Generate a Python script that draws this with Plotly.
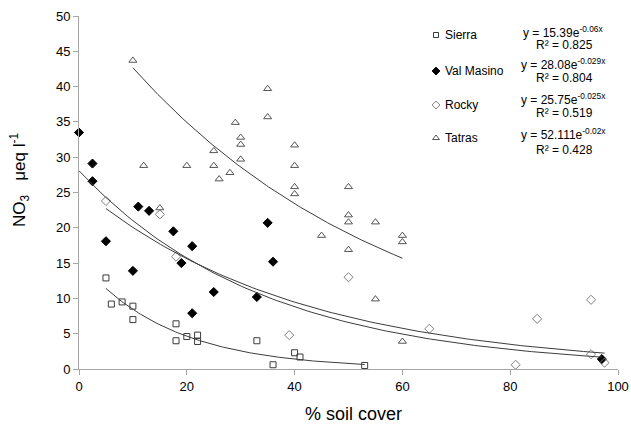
import numpy as np
import plotly.graph_objects as go

# ---- data ----
sierra_x = [5, 6, 8, 10, 10, 18, 18, 20, 22, 22, 33, 36, 40, 41, 53]
sierra_y = [12.9, 9.2, 9.5, 8.9, 7.0, 6.4, 4.0, 4.6, 4.8, 3.9, 4.0, 0.6, 2.3, 1.7, 0.5]

valmasino_x = [0, 2.5, 2.5, 5, 10, 11, 13, 17.5, 19, 21, 21, 25, 33, 35, 36, 97]
valmasino_y = [33.5, 29.1, 26.6, 18.1, 13.9, 23.0, 22.4, 19.5, 15.0, 17.4, 7.9, 10.9, 10.2, 20.7, 15.2, 1.4]

rocky_x = [5, 15, 18, 39, 50, 65, 85, 95, 81, 95, 97.5]
rocky_y = [23.8, 21.9, 15.9, 4.8, 13.0, 5.7, 7.1, 9.8, 0.6, 2.1, 0.9]

tatras_x = [10, 12, 15, 20, 25, 25, 26, 28, 29, 30, 30, 30, 35, 35, 40, 40, 40, 40,
            45, 50, 50, 50, 50, 55, 55, 60, 60, 60]
tatras_y = [43.7, 28.8, 22.8, 28.8, 30.9, 28.8, 26.9, 27.8, 34.9, 32.8, 31.8, 29.7, 39.7, 35.7,
            31.7, 28.8, 25.8, 24.8, 18.9, 25.8, 21.8, 20.8, 16.9, 20.8, 9.9, 18.9, 18.0, 3.9]

series_names = ["Sierra", "Val Masino", "Rocky", "Tatras"]
fit_a = [15.39, 28.08, 25.75, 52.111]
fit_b = [-0.06, -0.029, -0.025, -0.02]
fit_a_txt = ["15.39", "28.08", "25.75", "52.111"]
fit_b_txt = ["-0.06", "-0.029", "-0.025", "-0.02"]
fit_r2 = ["0.825", "0.804", "0.519", "0.428"]

x_ticks = [0, 20, 40, 60, 80, 100]
y_ticks = [0, 5, 10, 15, 20, 25, 30, 35, 40, 45, 50]

# ---- layout geometry (page pixels; body margin removed in the page) ----
W, H = 631, 427
PL, PR, PT, PB = 79, 618, 16, 369   # plot area on the page
ML, MT = PL, PT
MR = W - PR
MB = H - PB
PW = PR - PL
PH = PB - PT


def px(xp):
    return (xp - PL) / PW


def py(yp):
    return (PB - yp) / PH


FONT = "Liberation Sans, Arial, sans-serif"
xs_all = [sierra_x, valmasino_x, rocky_x, tatras_x]
ys_all = [sierra_y, valmasino_y, rocky_y, tatras_y]
symbols = ["square-open", "diamond", "diamond-open", "triangle-up-open"]
mcolors = ["#3a3a3a", "#000000", "#7f7f7f", "#555555"]
msizes = [6, 7, 7, 7]

fig = go.Figure()

for i in range(4):
    fig.add_trace(go.Scatter(
        x=xs_all[i], y=ys_all[i], mode="markers", name=series_names[i],
        marker=dict(symbol=symbols[i], size=msizes[i], color=mcolors[i],
                    line=dict(width=1, color=mcolors[i])),
        showlegend=False, cliponaxis=False))

# exponential trendlines from the stated equations, over each series' x range
for i in range(4):
    xx = np.linspace(min(xs_all[i]), max(xs_all[i]), 120)
    yy = fit_a[i] * np.exp(fit_b[i] * xx)
    fig.add_trace(go.Scatter(x=xx, y=yy, mode="lines", showlegend=False,
                             line=dict(color="#3c3c3c", width=1), hoverinfo="skip"))

# custom legend markers (paper space)
leg_y = [35, 71, 105, 138]
for i in range(4):
    fig.add_trace(go.Scatter(
        x=[px(436)], y=[py(leg_y[i])], xaxis="x2", yaxis="y2", mode="markers", showlegend=False,
        marker=dict(symbol=symbols[i], size=msizes[i] - 1, color=mcolors[i],
                    line=dict(width=1, color=mcolors[i])), hoverinfo="skip"))

annotations = []
for i in range(4):
    annotations.append(dict(x=px(443), y=py(leg_y[i]), xref="paper", yref="paper",
                            text=series_names[i],
                            showarrow=False, xanchor="left", yanchor="middle",
                            font=dict(family=FONT, size=12, color="#000")))
eq_y = [32, 64, 99, 134]
r2_y = [45, 78, 113, 150]
for i in range(4):
    annotations.append(dict(x=px(563), y=py(eq_y[i]), xref="paper", yref="paper",
                            text=f"y = {fit_a_txt[i]}e<sup>{fit_b_txt[i]}x</sup>",
                            showarrow=False, xanchor="center", yanchor="middle",
                            font=dict(family=FONT, size=12, color="#000")))
    annotations.append(dict(x=px(564), y=py(r2_y[i]), xref="paper", yref="paper",
                            text=f"R² = {fit_r2[i]}",
                            showarrow=False, xanchor="center", yanchor="middle",
                            font=dict(family=FONT, size=12, color="#000")))

# axis titles
annotations.append(dict(x=px(19), y=py(180), xref="paper", yref="paper",
                        text="NO<sub>3</sub>   μeq l<sup>-1</sup>", textangle=-90,
                        showarrow=False, xanchor="center", yanchor="middle",
                        font=dict(family=FONT, size=17, color="#000")))
annotations.append(dict(x=px(353), y=py(414), xref="paper", yref="paper",
                        text="% soil cover",
                        showarrow=False, xanchor="center", yanchor="middle",
                        font=dict(family=FONT, size=18, color="#000")))

fig.update_layout(
    width=W, height=H,
    margin=dict(l=ML, r=MR, t=MT, b=MB, autoexpand=False),
    paper_bgcolor="white", plot_bgcolor="white",
    font=dict(family=FONT, size=13, color="#000"),
    xaxis=dict(range=[0, 100], tickvals=x_ticks, showgrid=False, zeroline=False,
               showline=True, linecolor="#a6a6a6", linewidth=1,
               ticks="outside", ticklen=5, tickcolor="#a6a6a6",
               tickfont=dict(size=13, family=FONT)),
    yaxis=dict(range=[0, 50], tickvals=y_ticks, showgrid=False, zeroline=False,
               showline=True, linecolor="#a6a6a6", linewidth=1,
               ticks="outside", ticklen=5, tickcolor="#a6a6a6",
               tickfont=dict(size=13, family=FONT)),
    xaxis2=dict(range=[0, 1], overlaying="x", visible=False),
    yaxis2=dict(range=[0, 1], overlaying="y", visible=False),
    annotations=annotations,
)

fig.write_html("out.html", config={"displayModeBar": False},
               post_script="document.body.style.margin='0px';document.body.style.overflow='hidden';")
